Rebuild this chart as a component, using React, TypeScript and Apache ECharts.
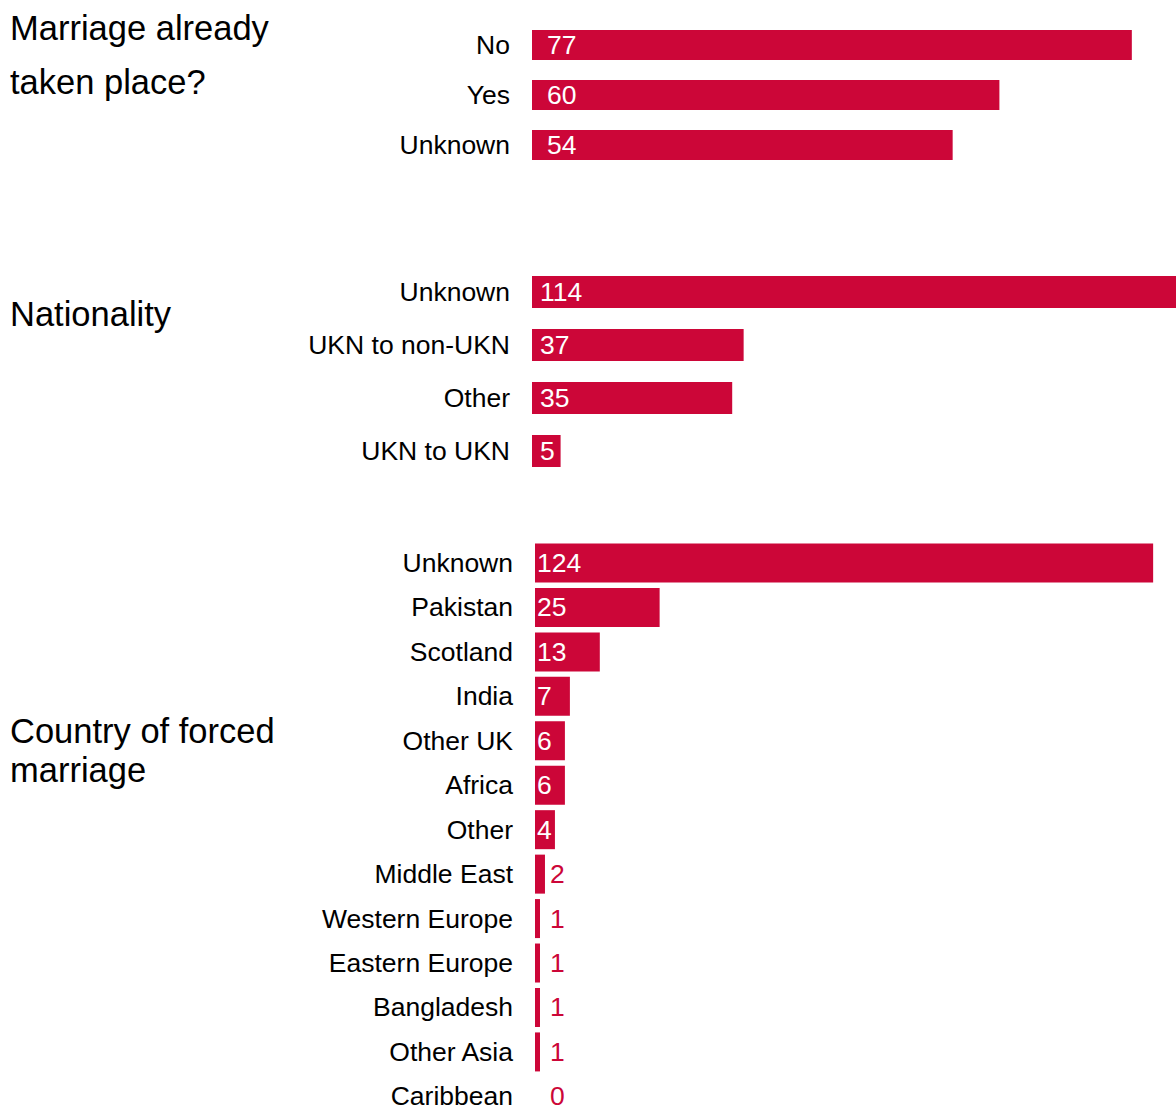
import React, { useEffect, useRef } from "react";
import * as echarts from "echarts";

const BAR_COLOR = "#cc0638";
const FONT = "'Liberation Sans', Arial, sans-serif";

const marriageCats = ["No", "Yes", "Unknown"];
const marriageVals = [77, 60, 54];

const nationalityCats = ["Unknown", "UKN to non-UKN", "Other", "UKN to UKN"];
const nationalityVals = [114, 37, 35, 5];

const countryCats = [
  "Unknown",
  "Pakistan",
  "Scotland",
  "India",
  "Other UK",
  "Africa",
  "Other",
  "Middle East",
  "Western Europe",
  "Eastern Europe",
  "Bangladesh",
  "Other Asia",
  "Caribbean",
];
const countryVals = [124, 25, 13, 7, 6, 6, 4, 2, 1, 1, 1, 1, 0];

const titles = [
  { lines: ["Marriage already", "taken place?"], ys: [28, 82] },
  { lines: ["Nationality"], ys: [314] },
  { lines: ["Country of forced", "marriage"], ys: [731, 770] },
];

function makeData(vals: number[], insideDist: number) {
  return vals.map((v) =>
    v >= 3
      ? {
          value: v,
          label: { position: "insideLeft", distance: insideDist, color: "#ffffff" },
        }
      : {
          value: v,
          label: {
            position: [15, "50%"],
            align: "left",
            verticalAlign: "middle",
            color: BAR_COLOR,
          },
        }
  );
}

export default function App() {
  const ref = useRef<HTMLDivElement>(null);

  useEffect(() => {
    document.body.style.margin = "0";
    document.body.style.overflow = "hidden";
    if (!ref.current) return;
    const chart = echarts.init(ref.current, undefined, { renderer: "svg" });

    const grids = [
      { left: 532, top: 20, width: 7.79 * 80, height: 150 },
      { left: 532, top: 265.5, width: 5.72 * 120, height: 212 },
      { left: 535, top: 540.75, width: 4.985 * 130, height: 13 * 44.45 },
    ];
    const maxes = [80, 120, 130];
    const cats = [marriageCats, nationalityCats, countryCats];
    const vals = [marriageVals, nationalityVals, countryVals];
    const barWidths = [30, 32, 39];
    const insideDists = [15, 8, 2];

    const graphic: any[] = [];
    titles.forEach((t) =>
      t.lines.forEach((line, i) =>
        graphic.push({
          type: "text",
          x: 10,
          y: t.ys[i],
          style: {
            text: line,
            fontSize: 34.5,
            fontFamily: FONT,
            fill: "#000000",
            verticalAlign: "middle",
            align: "left",
          },
        })
      )
    );

    chart.setOption({
      animation: false,
      backgroundColor: "#ffffff",
      grid: grids.map((g) => ({ ...g, containLabel: false })),
      xAxis: maxes.map((m, i) => ({
        type: "value",
        gridIndex: i,
        min: 0,
        max: m,
        show: false,
      })),
      yAxis: cats.map((c, i) => ({
        type: "category",
        gridIndex: i,
        data: c,
        inverse: true,
        axisLine: { show: false },
        axisTick: { show: false },
        splitLine: { show: false },
        axisLabel: {
          fontSize: 26.5,
          fontFamily: FONT,
          color: "#000000",
          margin: 22,
        },
      })),
      series: vals.map((v, i) => ({
        type: "bar",
        xAxisIndex: i,
        yAxisIndex: i,
        data: makeData(v, insideDists[i]),
        barWidth: barWidths[i],
        itemStyle: { color: BAR_COLOR },
        label: {
          show: true,
          fontSize: 26.5,
          fontFamily: FONT,
        },
        emphasis: { disabled: true },
      })),
      graphic,
    });

    return () => chart.dispose();
  }, []);

  return (
    <div style={{ width: 1176, height: 1108, overflow: "hidden", position: "relative" }}>
      <div ref={ref} style={{ width: 1320, height: 1200, position: "absolute", left: 0, top: 0 }} />
    </div>
  );
}
